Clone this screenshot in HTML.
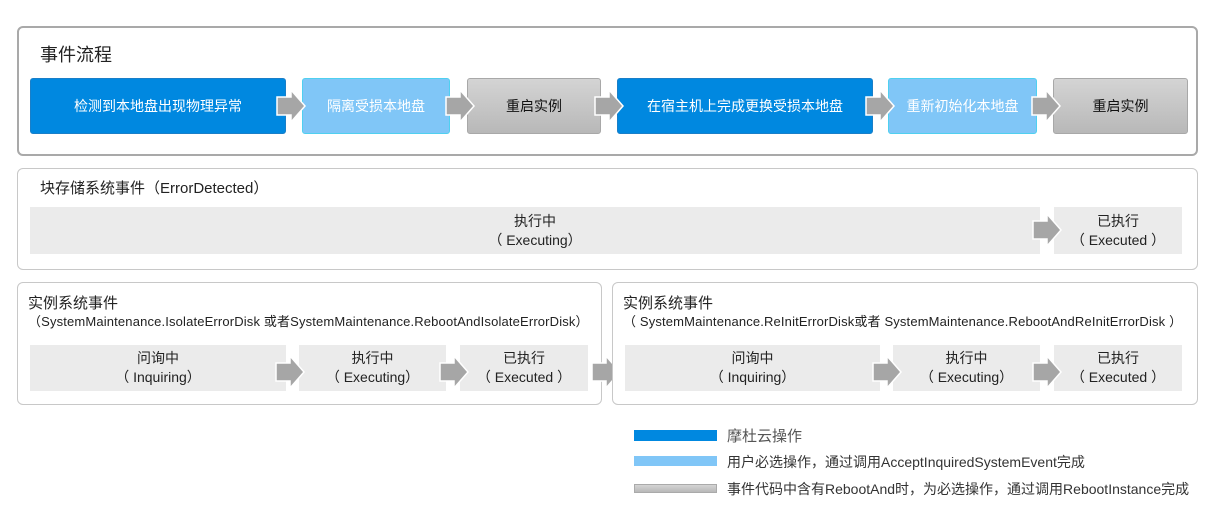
<!DOCTYPE html>
<html><head><meta charset="utf-8"><style>
*{margin:0;padding:0;box-sizing:border-box}
body{width:1218px;height:514px;background:#fff;position:relative;overflow:hidden;font-family:"Liberation Sans","Noto Sans CJK SC",sans-serif;color:#222}
.a{position:absolute}
.panel{position:absolute;border:1px solid #c8c8c8;border-radius:6px;background:#fff}
.b{position:absolute;display:flex;align-items:center;justify-content:center;text-align:center;font-size:14px;border-radius:3px}
.dk{background:#0088e0;color:#fff;border:1px solid #1a7fc8}
.lt{background:#80c6f7;color:#fff;border:1px solid #4fd0f0}
.gy{background:linear-gradient(#d4d4d4,#b8b8b8);color:#111;border:1px solid #a8a8a8}
.st{position:absolute;background:#ebebeb;display:flex;flex-direction:column;align-items:center;justify-content:center;font-size:14px;line-height:19px;color:#222}
svg.ar{position:absolute;overflow:visible}
.t{position:absolute;white-space:nowrap}
</style></head><body>

<div class="panel" style="left:17px;top:26px;width:1181px;height:130px;border:2px solid #a9a9a9"></div>
<div class="t" style="left:40px;top:41px;font-size:18px">事件流程</div>

<div class="b dk" style="left:30px;top:78px;width:256px;height:56px">检测到本地盘出现物理异常</div>
<div class="b lt" style="left:302px;top:78px;width:148px;height:56px">隔离受损本地盘</div>
<div class="b gy" style="left:467px;top:78px;width:134px;height:56px">重启实例</div>
<div class="b dk" style="left:617px;top:78px;width:256px;height:56px">在宿主机上完成更换受损本地盘</div>
<div class="b lt" style="left:888px;top:78px;width:149px;height:56px">重新初始化本地盘</div>
<div class="b gy" style="left:1053px;top:78px;width:135px;height:56px">重启实例</div>

<svg class="ar" style="left:277px;top:90px" width="28" height="32"><polygon points="0,7 14,7 14,0 28,16 14,32 14,25 0,25" fill="#a6a6a6" stroke="#fff" stroke-width="1.5"/></svg>
<svg class="ar" style="left:446px;top:90px" width="28" height="32"><polygon points="0,7 14,7 14,0 28,16 14,32 14,25 0,25" fill="#a6a6a6" stroke="#fff" stroke-width="1.5"/></svg>
<svg class="ar" style="left:595px;top:90px" width="28" height="32"><polygon points="0,7 14,7 14,0 28,16 14,32 14,25 0,25" fill="#a6a6a6" stroke="#fff" stroke-width="1.5"/></svg>
<svg class="ar" style="left:866px;top:90px" width="28" height="32"><polygon points="0,7 14,7 14,0 28,16 14,32 14,25 0,25" fill="#a6a6a6" stroke="#fff" stroke-width="1.5"/></svg>
<svg class="ar" style="left:1032px;top:90px" width="28" height="32"><polygon points="0,7 14,7 14,0 28,16 14,32 14,25 0,25" fill="#a6a6a6" stroke="#fff" stroke-width="1.5"/></svg>

<div class="panel" style="left:17px;top:168px;width:1181px;height:102px"></div>
<div class="t" style="left:40px;top:177px;font-size:15px">块存储系统事件（ErrorDetected）</div>
<div class="st" style="left:30px;top:207px;width:1010px;height:47px"><div>执行中</div><div>（ Executing）</div></div>
<div class="st" style="left:1054px;top:207px;width:128px;height:47px"><div>已执行</div><div>（ Executed ）</div></div>
<svg class="ar" style="left:1033px;top:214px" width="28" height="32"><polygon points="0,7 14,7 14,0 28,16 14,32 14,25 0,25" fill="#a6a6a6" stroke="#fff" stroke-width="1.5"/></svg>

<div class="panel" style="left:17px;top:282px;width:585px;height:123px"></div>
<div class="t" style="left:28px;top:292px;font-size:15px">实例系统事件</div>
<div class="t" style="left:28px;top:311px;font-size:13px;letter-spacing:0.15px">（SystemMaintenance.IsolateErrorDisk 或者SystemMaintenance.RebootAndIsolateErrorDisk）</div>
<div class="st" style="left:30px;top:345px;width:256px;height:46px"><div>问询中</div><div>（ Inquiring）</div></div>
<div class="st" style="left:299px;top:345px;width:147px;height:46px"><div>执行中</div><div>（ Executing）</div></div>
<div class="st" style="left:460px;top:345px;width:128px;height:46px"><div>已执行</div><div>（ Executed ）</div></div>
<svg class="ar" style="left:276px;top:356px" width="28" height="32"><polygon points="0,7 14,7 14,0 28,16 14,32 14,25 0,25" fill="#a6a6a6" stroke="#fff" stroke-width="1.5"/></svg>
<svg class="ar" style="left:440px;top:356px" width="28" height="32"><polygon points="0,7 14,7 14,0 28,16 14,32 14,25 0,25" fill="#a6a6a6" stroke="#fff" stroke-width="1.5"/></svg>
<svg class="ar" style="left:592px;top:356px" width="28" height="32"><polygon points="0,7 14,7 14,0 28,16 14,32 14,25 0,25" fill="#a6a6a6" stroke="#fff" stroke-width="1.5"/></svg>

<div class="panel" style="left:612px;top:282px;width:586px;height:123px"></div>
<div class="t" style="left:623px;top:292px;font-size:15px">实例系统事件</div>
<div class="t" style="left:623px;top:311px;font-size:13px;letter-spacing:0.15px">（ SystemMaintenance.ReInitErrorDisk或者 SystemMaintenance.RebootAndReInitErrorDisk ）</div>
<div class="st" style="left:625px;top:345px;width:255px;height:46px"><div>问询中</div><div>（ Inquiring）</div></div>
<div class="st" style="left:893px;top:345px;width:147px;height:46px"><div>执行中</div><div>（ Executing）</div></div>
<div class="st" style="left:1054px;top:345px;width:128px;height:46px"><div>已执行</div><div>（ Executed ）</div></div>
<svg class="ar" style="left:873px;top:356px" width="28" height="32"><polygon points="0,7 14,7 14,0 28,16 14,32 14,25 0,25" fill="#a6a6a6" stroke="#fff" stroke-width="1.5"/></svg>
<svg class="ar" style="left:1033px;top:356px" width="28" height="32"><polygon points="0,7 14,7 14,0 28,16 14,32 14,25 0,25" fill="#a6a6a6" stroke="#fff" stroke-width="1.5"/></svg>

<div class="a" style="left:634px;top:430px;width:83px;height:11px;background:#0088e0"></div>
<div class="t" style="left:727px;top:425px;font-size:15px;color:#555">摩杜云操作</div>
<div class="a" style="left:634px;top:456px;width:83px;height:10px;background:#80c6f7"></div>
<div class="t" style="left:727px;top:452px;font-size:14px;color:#333">用户必选操作，通过调用AcceptInquiredSystemEvent完成</div>
<div class="a" style="left:634px;top:484px;width:83px;height:9px;background:linear-gradient(#d4d4d4,#b8b8b8);border:1px solid #aaa"></div>
<div class="t" style="left:727px;top:479px;font-size:14px;color:#333">事件代码中含有RebootAnd时，为必选操作，通过调用RebootInstance完成</div>

</body></html>
